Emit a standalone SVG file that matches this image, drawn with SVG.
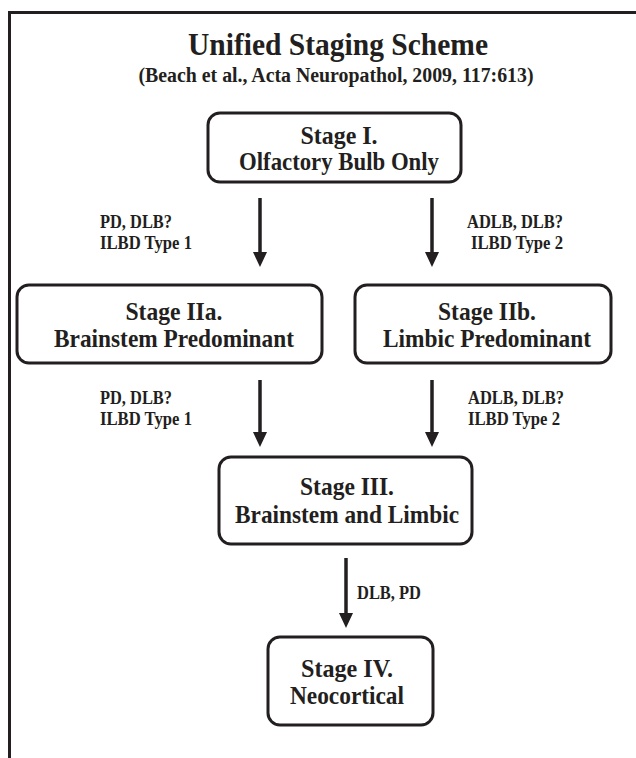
<svg xmlns="http://www.w3.org/2000/svg" width="636" height="758" viewBox="0 0 636 758">
<defs>
<style>
text{font-family:"Liberation Serif","Times New Roman",serif;font-weight:bold;fill:#231f20}
.t{font-size:32px;text-anchor:middle}
.st{font-size:20px;text-anchor:middle}
.n{font-size:25px;text-anchor:middle}
.l{font-size:18px}
.box{fill:#fff;stroke:#231f20;stroke-width:3}
.ed{stroke:#231f20;stroke-width:3.5;fill:none;marker-end:url(#ah)}
</style>
<marker id="ah" markerUnits="userSpaceOnUse" markerWidth="15" markerHeight="14" refX="7" refY="7" viewBox="0 0 15 14" orient="auto">
<path d="M0,0 L15,7 L0,14 Z" fill="#231f20"/>
</marker>
</defs>
<rect width="636" height="758" fill="#fff"/>
<path d="M9.5,758 V12.5 H636" fill="none" stroke="#231f20" stroke-width="3"/>
<g id="title">
<text class="t" x="338" y="55" textLength="300" lengthAdjust="spacingAndGlyphs">Unified Staging Scheme</text>
<text class="st" x="336" y="82" textLength="395" lengthAdjust="spacingAndGlyphs">(Beach et al., Acta Neuropathol, 2009, 117:613)</text>
</g>
<g id="connectors">
<line class="ed" x1="260" y1="198" x2="260" y2="259"/>
<line class="ed" x1="432" y1="198" x2="432" y2="259"/>
<line class="ed" x1="260" y1="380" x2="260" y2="439"/>
<line class="ed" x1="432" y1="380" x2="432" y2="439"/>
<line class="ed" x1="346" y1="558" x2="346" y2="620"/>
<text class="l" x="100" y="228" textLength="72" lengthAdjust="spacingAndGlyphs">PD, DLB?</text>
<text class="l" x="100" y="249" textLength="92" lengthAdjust="spacingAndGlyphs">ILBD Type 1</text>
<text class="l" x="563" y="228" text-anchor="end" textLength="96" lengthAdjust="spacingAndGlyphs">ADLB, DLB?</text>
<text class="l" x="563" y="249" text-anchor="end" textLength="92" lengthAdjust="spacingAndGlyphs">ILBD Type 2</text>
<text class="l" x="100" y="404" textLength="72" lengthAdjust="spacingAndGlyphs">PD, DLB?</text>
<text class="l" x="100" y="425" textLength="92" lengthAdjust="spacingAndGlyphs">ILBD Type 1</text>
<text class="l" x="468" y="404" textLength="96" lengthAdjust="spacingAndGlyphs">ADLB, DLB?</text>
<text class="l" x="468" y="425" textLength="92" lengthAdjust="spacingAndGlyphs">ILBD Type 2</text>
<text class="l" x="357" y="599" textLength="64" lengthAdjust="spacingAndGlyphs">DLB, PD</text>
</g>
<g id="stage1">
<rect class="box" x="208" y="113" width="253" height="69" rx="12"/>
<text class="n" x="339" y="144" textLength="77" lengthAdjust="spacingAndGlyphs">Stage I.</text>
<text class="n" x="339" y="170" textLength="200" lengthAdjust="spacingAndGlyphs">Olfactory Bulb Only</text>
</g>
<g id="stage2a">
<rect class="box" x="17" y="285" width="305" height="78" rx="12"/>
<text class="n" x="174" y="320" textLength="97" lengthAdjust="spacingAndGlyphs">Stage IIa.</text>
<text class="n" x="174" y="347" textLength="240" lengthAdjust="spacingAndGlyphs">Brainstem Predominant</text>
</g>
<g id="stage2b">
<rect class="box" x="355" y="285" width="256" height="78" rx="12"/>
<text class="n" x="487" y="320" textLength="98" lengthAdjust="spacingAndGlyphs">Stage IIb.</text>
<text class="n" x="487" y="347" textLength="208" lengthAdjust="spacingAndGlyphs">Limbic Predominant</text>
</g>
<g id="stage3">
<rect class="box" x="219" y="457" width="253" height="87" rx="12"/>
<text class="n" x="347" y="495" textLength="94" lengthAdjust="spacingAndGlyphs">Stage III.</text>
<text class="n" x="347" y="523" textLength="224" lengthAdjust="spacingAndGlyphs">Brainstem and Limbic</text>
</g>
<g id="stage4">
<rect class="box" x="268" y="637" width="165" height="88" rx="12"/>
<text class="n" x="347" y="677" textLength="92" lengthAdjust="spacingAndGlyphs">Stage IV.</text>
<text class="n" x="347" y="704" textLength="114" lengthAdjust="spacingAndGlyphs">Neocortical</text>
</g>
</svg>
